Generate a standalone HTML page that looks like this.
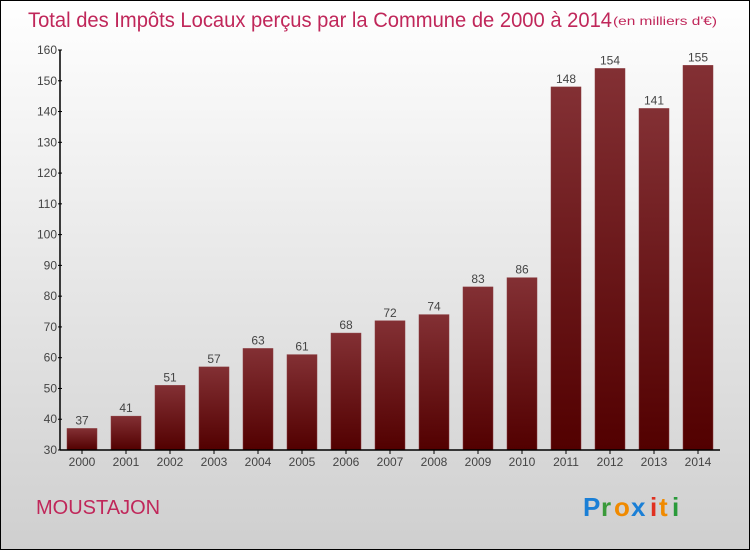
<!DOCTYPE html>
<html><head><meta charset="utf-8"><style>
body{margin:0}
#c{width:750px;height:550px;position:relative;font-family:"Liberation Sans",sans-serif;}
</style></head><body>
<div id="c">
<svg width="750" height="550" xmlns="http://www.w3.org/2000/svg">
<defs>
<linearGradient id="bg" x1="0" y1="0" x2="0" y2="1"><stop offset="0" stop-color="#ffffff"/><stop offset="1" stop-color="#cfcfcf"/></linearGradient>
<linearGradient id="bar" x1="0" y1="0" x2="0" y2="1"><stop offset="0" stop-color="#833034"/><stop offset="1" stop-color="#520000"/></linearGradient>
</defs>
<rect x="0.5" y="0.5" width="749" height="549" fill="url(#bg)" stroke="#000"/>
<text x="28" y="27" font-size="21" fill="#c0275a" textLength="584" lengthAdjust="spacingAndGlyphs">Total des Impôts Locaux perçus par la Commune de 2000 à 2014</text>
<text x="613" y="25" font-size="12" fill="#c0275a" textLength="104" lengthAdjust="spacingAndGlyphs">(en milliers d'€)</text>
<g id="plot"></g>
<text x="36" y="514" font-size="20" fill="#c0275a">MOUSTAJON</text>
<g font-size="26" font-weight="bold">
<text x="583" y="516" fill="#1a7fd6">P</text><text x="601" y="516" fill="#3a9a3a">r</text><text x="614" y="516" fill="#f08a00">o</text><text x="631" y="516" fill="#1a7fd6">x</text><text x="650" y="516" fill="#e03020">i</text><text x="659" y="516" fill="#f08a00">t</text><text x="672" y="516" fill="#2a9a3a">i</text>
</g>
</svg>
</div>
<script>
const years=["2000","2001","2002","2003","2004","2005","2006","2007","2008","2009","2010","2011","2012","2013","2014"];
const values=[37,41,51,57,63,61,68,72,74,83,86,148,154,141,155];
const yTicks=[30,40,50,60,70,80,90,100,110,120,130,140,150,160];
const NS="http://www.w3.org/2000/svg";
const g=document.getElementById('plot');
const x0=60,x1=720,yTop=50,yBot=450,vMin=30,vMax=160;
const band=(x1-x0)/years.length;
function yS(v){return yBot-(v-vMin)/(vMax-vMin)*(yBot-yTop);}
function xS(i){return x0+band*(i+0.5);}
function mk(t,a,txt){const e=document.createElementNS(NS,t);for(const k in a)e.setAttribute(k,a[k]);if(txt!=null)e.textContent=txt;g.appendChild(e);return e;}
values.forEach((v,i)=>{
 const r=mk('rect',{x:xS(i)-15,y:yS(v),width:30,height:yBot-yS(v),fill:'url(#bar)',stroke:'#8a3a3e','stroke-width':0.5});
 
 
 const t=mk('text',{x:xS(i),y:yS(v)-4,'font-size':12,fill:'#444','text-anchor':'middle'},String(v));
 
 
 const xl=mk('text',{x:xS(i),y:466,'font-size':12,fill:'#444','text-anchor':'middle'},years[i]);
 
 
 const tk=mk('line',{x1:xS(i),x2:xS(i),y1:yBot,y2:yBot+4,stroke:'#000'});
 
 
});
yTicks.forEach(v=>{
 const l=mk('line',{x1:x0-2,x2:x0+2,y1:yS(v),y2:yS(v),stroke:'#000'});
 
 
 const t=mk('text',{x:x0-3,y:yS(v)+4,'font-size':12,fill:'#444','text-anchor':'end'},String(v));
 
 
});
const ya=mk('line',{x1:x0,x2:x0,y1:yTop,y2:yBot,stroke:'#000','stroke-width':1.5});


const xa=mk('line',{x1:x0,x2:x1,y1:yBot,y2:yBot,stroke:'#000','stroke-width':1.5});


</script>
</body></html>
